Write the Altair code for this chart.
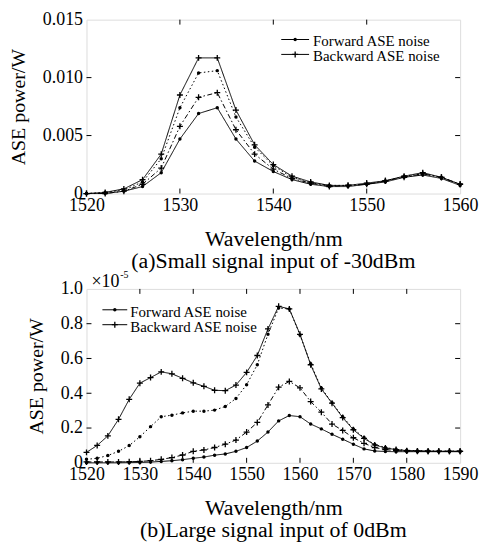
import altair as alt
import pandas as pd

FONT = "Liberation Serif"

# ---------------- panel (a): small signal, -30 dBm ----------------
wl_a = [1520, 1522, 1524, 1526, 1528, 1530, 1532, 1534, 1536, 1538, 1540,
        1542, 1544, 1546, 1548, 1550, 1552, 1554, 1556, 1558, 1560]
a_solid_plus = [0.0, 0.0001, 0.0004, 0.0012, 0.0034, 0.0085, 0.0117, 0.0117, 0.0072, 0.0042, 0.0025,
                0.0015, 0.0010, 0.0007, 0.0007, 0.0009, 0.0011, 0.0015, 0.0018, 0.0014, 0.0008]
a_dot_dots = [0.0, 0.0001, 0.0003, 0.0010, 0.0030, 0.0074, 0.0104, 0.0106, 0.0066, 0.0040, 0.0024,
              0.0014, 0.0009, 0.0007, 0.0007, 0.0008, 0.0011, 0.0015, 0.0017, 0.0014, 0.0008]
a_dashdot_plus = [0.0, 0.0, 0.0002, 0.0008, 0.0022, 0.0058, 0.0083, 0.0087, 0.0055, 0.0034, 0.0021,
                  0.0013, 0.0009, 0.0006, 0.0007, 0.0008, 0.0011, 0.0014, 0.0017, 0.0014, 0.0008]
a_solid_dots = [0.0, 0.0, 0.0002, 0.0006, 0.0018, 0.0047, 0.0069, 0.0074, 0.0047, 0.0028, 0.0019,
                0.0012, 0.0008, 0.0006, 0.0006, 0.0008, 0.0010, 0.0014, 0.0016, 0.0013, 0.0007]
xlabels_a = [1520, 1530, 1540, 1550, 1560]
ylabels_a = [0, 0.005, 0.010, 0.015]

# ---------------- panel (b): large signal, 0 dBm (x1e-5 W) ----------------
wl_b = [1520, 1522, 1524, 1526, 1528, 1530, 1532, 1534, 1536, 1538, 1540, 1542,
        1544, 1546, 1548, 1550, 1552, 1554, 1556, 1558, 1560, 1562, 1564, 1566,
        1568, 1570, 1572, 1574, 1576, 1578, 1580, 1582, 1584, 1586, 1588, 1590]
b_solid_plus = [0.06, 0.10, 0.155, 0.25, 0.365, 0.458, 0.49, 0.523, 0.512, 0.486, 0.46, 0.44,
                0.417, 0.415, 0.447, 0.52, 0.617, 0.77, 0.90, 0.885, 0.739, 0.564, 0.425, 0.343,
                0.26, 0.19, 0.14, 0.103, 0.085, 0.076, 0.07, 0.068, 0.067, 0.066, 0.066, 0.066]
b_dot_dots = [0.02, 0.026, 0.042, 0.066, 0.099, 0.15, 0.208, 0.265, 0.274, 0.287, 0.297, 0.297,
              0.303, 0.324, 0.37, 0.449, 0.564, 0.739, 0.89, 0.885, 0.735, 0.57, 0.43, 0.345,
              0.265, 0.195, 0.145, 0.105, 0.088, 0.078, 0.072, 0.07, 0.069, 0.068, 0.068, 0.068]
b_dashdot_plus = [0.005, 0.005, 0.005, 0.005, 0.006, 0.008, 0.012, 0.02, 0.03, 0.045, 0.066, 0.074,
                  0.088, 0.107, 0.131, 0.177, 0.232, 0.333, 0.435, 0.468, 0.431, 0.352, 0.291, 0.223,
                  0.186, 0.144, 0.112, 0.088, 0.076, 0.07, 0.068, 0.067, 0.066, 0.066, 0.066, 0.066]
b_solid_dots = [0.0, 0.0, 0.0, 0.0, 0.001, 0.002, 0.004, 0.008, 0.012, 0.018, 0.026, 0.033,
                0.044, 0.051, 0.066, 0.088, 0.125, 0.177, 0.241, 0.272, 0.265, 0.223, 0.195, 0.164,
                0.136, 0.107, 0.08, 0.068, 0.065, 0.064, 0.064, 0.064, 0.064, 0.064, 0.064, 0.064]
xlabels_b = [1520, 1530, 1540, 1550, 1560, 1570, 1580, 1590]
ylabels_b = [0, 0.2, 0.4, 0.6, 0.8, 1.0]

legend_labels = ["Forward ASE noise", "Backward ASE noise"]

PLUS = "M-1,0L1,0M0,-1L0,1"
SOLID = [1, 0]
DOTTED = [1.5, 2.5]
DASHDOT = [5, 2.5, 1.5, 2.5]


def panel(wl, series, xdom, xlabels, ydom, ylabels, yfmt, w, h, leg, caption, expo=False):
    xs = alt.Scale(domain=xdom, nice=False, zero=False)
    ys = alt.Scale(domain=ydom, nice=False)
    xaxis = alt.Axis(values=xlabels, format="d", title="Wavelength/nm", grid=False,
                     domain=False, ticks=False, labelPadding=3,
                     labelFont=FONT, labelFontSize=18, labelColor="black",
                     titleFont=FONT, titleFontSize=22, titleFontWeight="normal",
                     titleColor="black", titlePadding=14, labelFlush=False)
    yaxis = alt.Axis(values=ylabels, title="ASE power/W", grid=False,
                     domain=False, ticks=False, labelPadding=4,
                     labelExpr=f"datum.value == 0 ? '0' : format(datum.value, '{yfmt}')",
                     labelFont=FONT, labelFontSize=18, labelColor="black",
                     titleFont=FONT, titleFontSize=20, titleFontWeight="normal",
                     titleColor="black", titlePadding=14, labelFlush=False)

    def X(f):
        return alt.X(f, scale=xs, axis=xaxis)

    def Y(f):
        return alt.Y(f, scale=ys, axis=yaxis)

    layers = []
    for vals, dash, marker in series:
        df = pd.DataFrame({"wl": wl, "p": vals})
        base = alt.Chart(df)
        layers.append(base.mark_line(color="black", strokeWidth=1, strokeDash=dash).encode(
            x=X("wl:Q"), y=Y("p:Q")))
        if marker == "dot":
            pm = base.mark_point(shape="circle", filled=True, color="black", size=12, opacity=1)
        else:
            pm = base.mark_point(shape=PLUS, filled=False, color="black", size=36,
                                 strokeWidth=1.3, opacity=1)
        layers.append(pm.encode(x=X("wl:Q"), y=Y("p:Q")))
    # inward tick marks on all four sides
    xin = pd.DataFrame({"v": [v for v in xlabels if xdom[0] < v < xdom[1]]})
    yin = pd.DataFrame({"v": [v for v in ylabels if ydom[0] < v < ydom[1]]})
    layers.append(alt.Chart(xin).mark_rule(color="black", strokeWidth=1).encode(
        x=X("v:Q"), y=alt.value(h), y2=alt.value(h - 5)))
    layers.append(alt.Chart(xin).mark_rule(color="black", strokeWidth=1).encode(
        x=X("v:Q"), y=alt.value(0), y2=alt.value(5)))
    layers.append(alt.Chart(yin).mark_rule(color="black", strokeWidth=1).encode(
        y=Y("v:Q"), x=alt.value(0), x2=alt.value(5)))
    layers.append(alt.Chart(yin).mark_rule(color="black", strokeWidth=1).encode(
        y=Y("v:Q"), x=alt.value(w), x2=alt.value(w - 5)))
    # legend (manual)
    lx0, lx1, tx, ly0, dy = leg
    one = pd.DataFrame({"k": [0]})
    for i, (lab, marker) in enumerate(zip(legend_labels, ["dot", "plus"])):
        yy = ly0 + i * dy
        layers.append(alt.Chart(one).mark_rule(color="black", strokeWidth=1).encode(
            x=alt.value(lx0), x2=alt.value(lx1), y=alt.value(yy)))
        if marker == "dot":
            pm = alt.Chart(one).mark_point(shape="circle", filled=True, color="black", size=12, opacity=1)
        else:
            pm = alt.Chart(one).mark_point(shape=PLUS, filled=False, color="black", size=36,
                                           strokeWidth=1.3, opacity=1)
        layers.append(pm.encode(x=alt.value((lx0 + lx1) / 2), y=alt.value(yy)))
        layers.append(alt.Chart(one).mark_text(font=FONT, fontSize=15, align="left",
                                               baseline="middle", color="black").encode(
            x=alt.value(tx), y=alt.value(yy + 2), text=alt.value(lab)))
    if expo:
        layers.append(alt.Chart(one).mark_text(font=FONT, fontSize=18, align="left",
                                               baseline="alphabetic", color="black").encode(
            x=alt.value(5), y=alt.value(-2), text=alt.value("×10")))
        layers.append(alt.Chart(one).mark_text(font=FONT, fontSize=10, align="left",
                                               baseline="alphabetic", color="black").encode(
            x=alt.value(34), y=alt.value(-11), text=alt.value("-5")))
    return alt.layer(*layers).properties(
        width=w, height=h,
        title=alt.TitleParams(text=caption, orient="bottom", font=FONT, fontSize=22,
                              fontWeight="normal", color="black", offset=2, anchor="middle"))


top = panel(wl_a,
            [(a_solid_plus, SOLID, "plus"), (a_dot_dots, DOTTED, "dot"),
             (a_dashdot_plus, DASHDOT, "plus"), (a_solid_dots, SOLID, "dot")],
            [1520, 1560], xlabels_a, [0, 0.015], ylabels_a, ".3f", 376, 175,
            (196, 224, 228, 20, 15), "(a)Small signal input of -30dBm")

bottom = panel(wl_b,
               [(b_solid_plus, SOLID, "plus"), (b_dot_dots, DOTTED, "dot"),
                (b_dashdot_plus, DASHDOT, "plus"), (b_solid_dots, SOLID, "dot")],
               [1520, 1590], xlabels_b, [0, 1.0], ylabels_b, ".1f", 376, 175,
               (16, 41, 44, 21, 15), "(b)Large signal input of 0dBm", expo=True)

chart = alt.vconcat(top, bottom, spacing=96, bounds="flush").properties(
    padding={"left": 0, "top": 0, "right": 0, "bottom": 0}
).configure_view(stroke="black", strokeWidth=1).configure(background="white")

chart.save("out.html", embed_options={"renderer": "svg", "actions": False})
